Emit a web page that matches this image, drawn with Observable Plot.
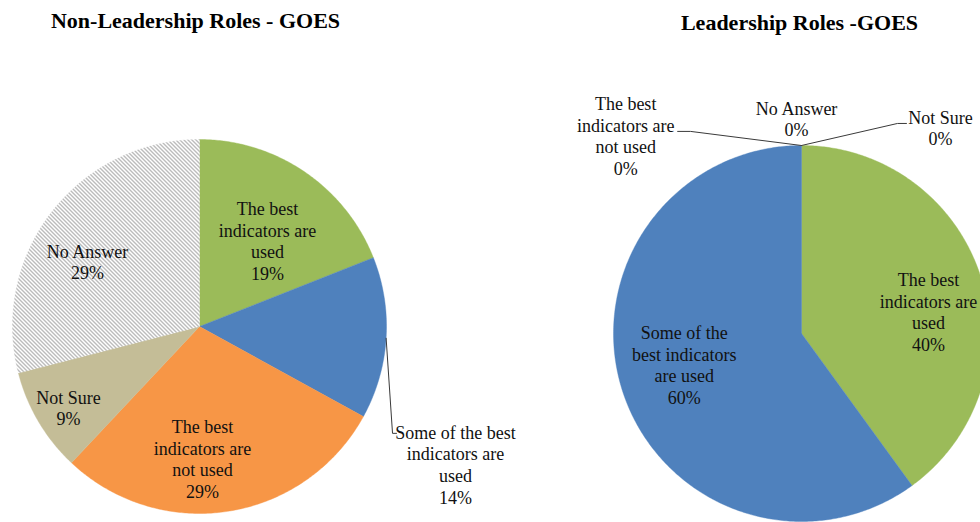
<!DOCTYPE html>
<html><head><meta charset="utf-8">
<script src="https://cdn.jsdelivr.net/npm/d3@7"></script>
<script src="https://cdn.jsdelivr.net/npm/@observablehq/plot@0.6"></script>
<style>html,body{margin:0;padding:0;background:#fff;}</style>
</head><body><div id="chart"></div>
<script>
// ---- data ----
const categories = ["The best indicators are used", "Some of the best indicators are used", "The best indicators are not used", "Not Sure", "No Answer"];
const nonLeaderValues = [19, 14, 29, 9, 29];
const leaderValues = [40, 60, 0, 0, 0];
const nonLeaderLabels = ["The best\nindicators are\nused", "Some of the best\nindicators are\nused", "The best\nindicators are\nnot used", "Not Sure", "No Answer"];
const leaderLabels = ["The best\nindicators are\nused", "Some of the\nbest indicators\nare used", "The best\nindicators are\nnot used", "Not Sure", "No Answer"];
const titles = ["Non-Leadership Roles - GOES", "Leadership Roles -GOES"];

// ---- layout / style ----
const colors = ["#9BBB59", "#4F81BD", "#F79646", "#C4BD97", "url(#hatch)"];
const pies = [
  {values: nonLeaderValues, labels: nonLeaderLabels, title: titles[0], cx: 199, cy: 326, r: 187, tx: 195, ty: 20,
   labelPos: [[4.1, 0.586], [24.7, 1.555], [7.7, 0.706], [-1.1, 0.824], [-7.7, 0.693]],
   leaders: {1: [[-63, -31], [-59, -31]]}},
  {values: leaderValues, labels: leaderLabels, title: titles[1], cx: 801, cy: 333, r: 188, tx: 799, ty: 22,
   labelPos: [[8.2, 0.686], [3.2, 0.645], [-41.6, 1.409], [34, 1.322], [-1.3, 1.144]],
   leaders: {2: [[65, -4], [52, -4]], 3: [[-43, -4], [-34, -4]]}}
];

const slicePts = [], labelData = [], leaderPts = [], titleData = [];
pies.forEach((p, pi) => {
  titleData.push({x: p.tx, y: p.ty, text: p.title});
  const arcs = d3.pie().sort(null).value(d => d)(p.values);
  arcs.forEach((a, i) => {
    const span = a.endAngle - a.startAngle;
    if (span > 0) {
      const key = pi + "-" + i;
      const n = Math.max(2, Math.ceil(span / 0.01));
      slicePts.push({key, x: p.cx, y: p.cy, fill: colors[i]});
      for (let k = 0; k <= n; k++) {
        const t = a.startAngle + span * k / n;
        slicePts.push({key, x: p.cx + p.r * Math.sin(t), y: p.cy - p.r * Math.cos(t), fill: colors[i]});
      }
      slicePts.push({key, x: p.cx, y: p.cy, fill: colors[i]});
    }
    const mid = (a.startAngle + a.endAngle) / 2;
    const [da, rf] = p.labelPos[i];
    const ang = mid + da * Math.PI / 180;
    const lx = p.cx + rf * p.r * Math.sin(ang), ly = p.cy - rf * p.r * Math.cos(ang);
    labelData.push({x: lx, y: ly, text: p.labels[i] + "\n" + p.values[i] + "%"});
    const ld = p.leaders[i];
    if (ld) {
      const key = "L" + pi + "-" + i;
      leaderPts.push({key, x: p.cx + p.r * Math.sin(mid), y: p.cy - p.r * Math.cos(mid)});
      ld.forEach(([dx, dy]) => leaderPts.push({key, x: lx + dx, y: ly + dy}));
    }
  });
});

const svg = Plot.plot({
  width: 980, height: 522, margin: 0,
  style: {background: "#fff"},
  x: {domain: [0, 980], range: [0, 980], axis: null},
  y: {domain: [0, 522], range: [0, 522], axis: null},
  color: {type: "identity"},
  marks: [
    Plot.line(slicePts, {x: "x", y: "y", z: "key", fill: "fill", stroke: "fill", strokeWidth: 0.4, curve: "linear"}),
    Plot.line(leaderPts, {x: "x", y: "y", z: "key", stroke: "#3a3a3a", strokeWidth: 1, curve: "linear"}),
    Plot.text(labelData, {x: "x", y: "y", text: "text", fontSize: 18, fontFamily: "Liberation Serif", lineHeight: 1.2, lineAnchor: "middle", fill: "#111"}),
    Plot.text(titleData, {x: "x", y: "y", text: "text", fontSize: 22, fontWeight: "bold", fontFamily: "Liberation Serif", fill: "#000"})
  ]
});

const defs = d3.select(svg).insert("defs", ":first-child");
const pat = defs.append("pattern").attr("id", "hatch").attr("patternUnits", "userSpaceOnUse").attr("width", 4).attr("height", 4);
pat.append("rect").attr("width", 4).attr("height", 4).attr("fill", "#fff");
pat.append("path").attr("d", "M-1,-1L5,5M-1,3L1,5M3,-1L5,1").attr("stroke", "#6a6a6a").attr("stroke-width", 0.9);

document.getElementById("chart").appendChild(svg);
</script>
</body></html>
